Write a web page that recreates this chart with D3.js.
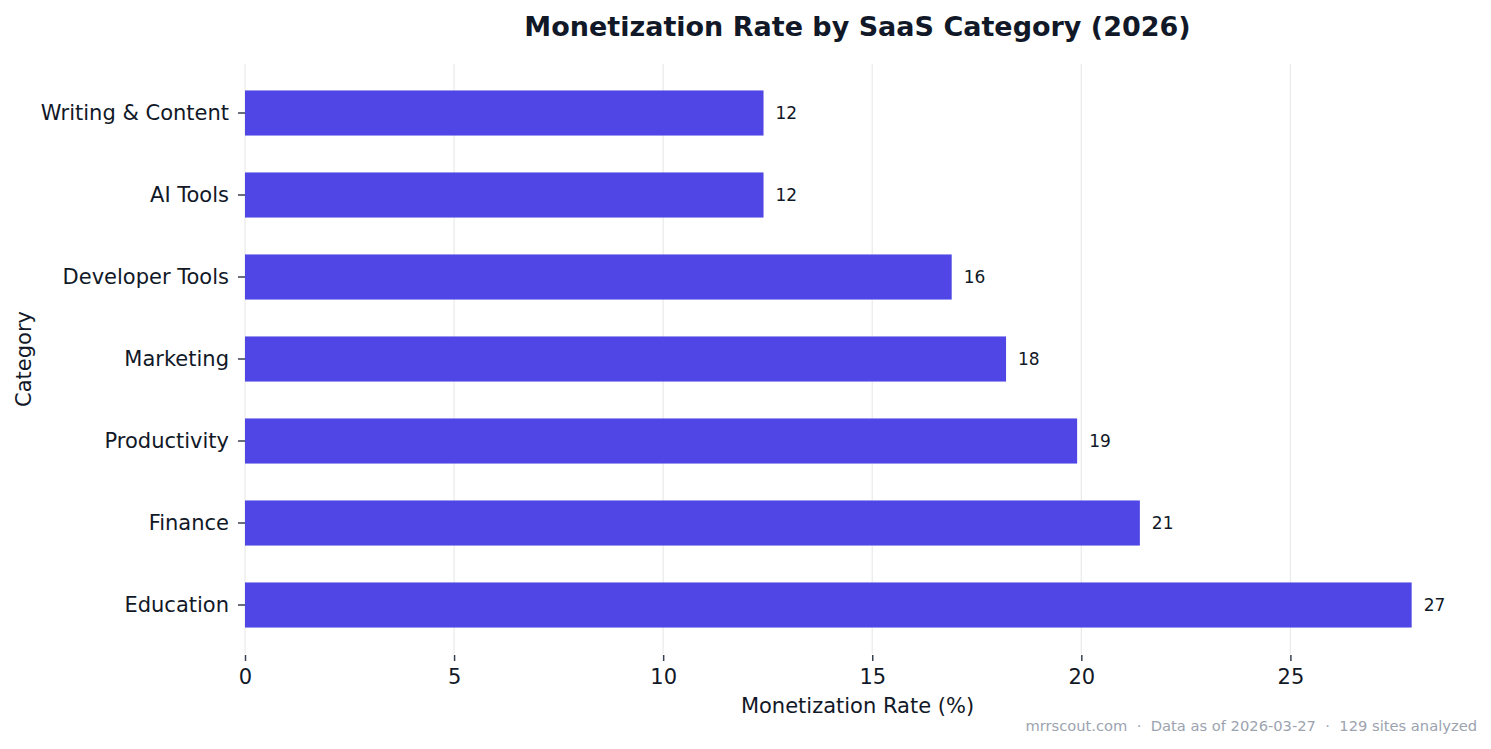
<!DOCTYPE html>
<html>
<head>
<meta charset="utf-8">
<script src="https://cdn.jsdelivr.net/npm/d3@7"></script>
<style>
  body { margin: 0; background: #fff; }
  text { font-family: "DejaVu Sans", sans-serif; }
</style>
</head>
<body>
<div id="chart"></div>
<script>
// data
var categories = ["Writing & Content", "AI Tools", "Developer Tools", "Marketing", "Productivity", "Finance", "Education"];
var rates = [12.4, 12.4, 16.9, 18.2, 19.9, 21.4, 27.9];
var xTicks = [0, 5, 10, 15, 20, 25];

var data = categories.map(function(c, i) { return {cat: c, value: rates[i]}; });

var W = 1491, H = 749;
var margin = {top: 64, right: 21, bottom: 95, left: 245},
    width = W - margin.left - margin.right,
    height = H - margin.top - margin.bottom;

var svg = d3.select("#chart")
  .append("svg")
    .attr("width", W)
    .attr("height", H);

var g = svg.append("g")
  .attr("transform", "translate(" + margin.left + "," + margin.top + ")");

var x = d3.scaleLinear()
  .domain([0, d3.max(rates) * 1.05])
  .range([0, width]);

var y = d3.scaleBand()
  .domain(categories)
  .range([0, height])
  .paddingInner(0.45)
  .paddingOuter(0.3225);

// grid
g.selectAll("line.grid")
  .data(xTicks)
  .enter()
  .append("line")
    .attr("class", "grid")
    .attr("x1", d => x(d))
    .attr("x2", d => x(d))
    .attr("y1", 0)
    .attr("y2", height)
    .attr("stroke", "#ebebeb")
    .attr("stroke-width", 1.3);

// bars
g.selectAll("rect.bar")
  .data(data)
  .enter()
  .append("rect")
    .attr("class", "bar")
    .attr("x", x(0))
    .attr("y", d => y(d.cat))
    .attr("width", d => x(d.value) - x(0))
    .attr("height", y.bandwidth())
    .attr("fill", "#4f46e5");

// value labels
g.selectAll("text.val")
  .data(data)
  .enter()
  .append("text")
    .attr("class", "val")
    .attr("x", d => x(d.value) + 12)
    .attr("y", d => y(d.cat) + y.bandwidth() / 2)
    .attr("dy", "0.35em")
    .style("font-size", "17px")
    .attr("fill", "#111827")
    .text(d => Math.floor(d.value));

// x axis
var xAxis = g.append("g")
  .attr("transform", "translate(0," + (height + 1) + ")")
  .call(d3.axisBottom(x).tickValues(xTicks).tickSize(6).tickPadding(8));
xAxis.select(".domain").remove();
xAxis.selectAll("line").attr("stroke", "#374151").attr("stroke-width", 1.5);
xAxis.selectAll("text")
  .style("font-size", "21px")
  .style("font-family", "DejaVu Sans")
  .attr("fill", "#111827");

// y axis
var yAxis = g.append("g")
  .call(d3.axisLeft(y).tickSize(7).tickPadding(9));
yAxis.select(".domain").remove();
yAxis.selectAll("line").attr("stroke", "#374151").attr("stroke-width", 1.5);
yAxis.selectAll("text")
  .style("font-size", "21px")
  .style("font-family", "DejaVu Sans")
  .attr("fill", "#111827");

// title
svg.append("text")
  .attr("x", margin.left + width / 2)
  .attr("y", 36)
  .attr("text-anchor", "middle")
  .style("font-size", "27px")
  .style("font-weight", "bold")
  .attr("fill", "#111827")
  .text("Monetization Rate by SaaS Category (2026)");

// axis titles
svg.append("text")
  .attr("x", margin.left + width / 2)
  .attr("y", 713)
  .attr("text-anchor", "middle")
  .style("font-size", "21px")
  .attr("fill", "#111827")
  .text("Monetization Rate (%)");

svg.append("text")
  .attr("transform", "translate(31," + (margin.top + height / 2) + ") rotate(-90)")
  .attr("text-anchor", "middle")
  .style("font-size", "21px")
  .attr("fill", "#111827")
  .text("Category");

// footer
svg.append("text")
  .attr("x", 1477)
  .attr("y", 731)
  .attr("text-anchor", "end")
  .style("font-size", "14.7px")
  .style("white-space", "pre")
  .attr("fill", "#9ca3af")
  .text("mrrscout.com  \u00b7  Data as of 2026-03-27  \u00b7  129 sites analyzed");
</script>
</body>
</html>
